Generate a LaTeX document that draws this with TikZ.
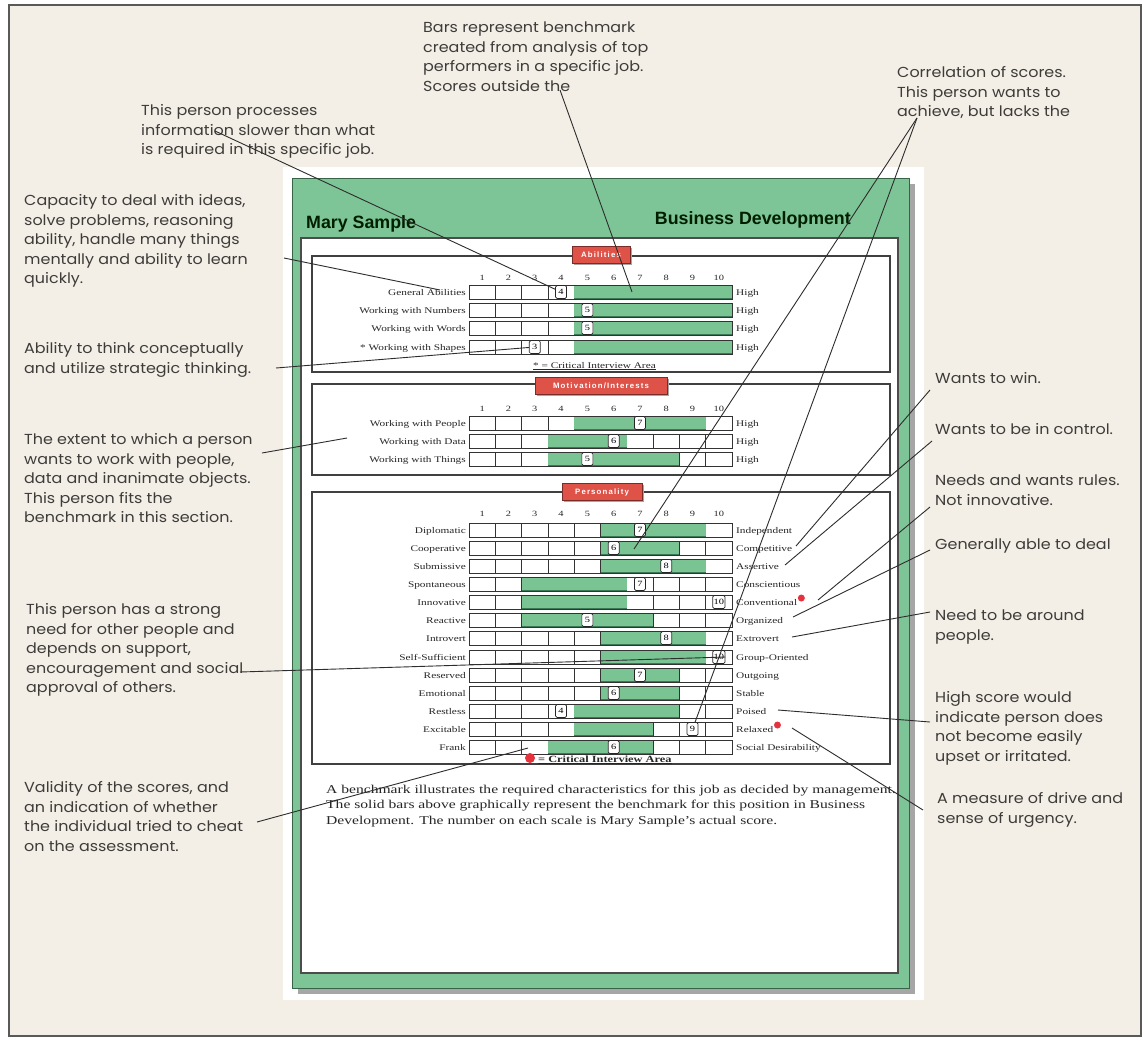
\documentclass[tikz,border=0pt]{standalone}
\usepackage{fontspec}
\setmainfont{Liberation Serif}
\newfontfamily\annfont[FakeStretch=1.1]{Poppins}
\newfontfamily\chartfont[FakeStretch=1.3]{Liberation Serif}
\newfontfamily\ttlfont{Liberation Sans}
\newfontfamily\tagfont[LetterSpace=15]{Liberation Sans}
\definecolor{beige}{RGB}{243,239,231}
\definecolor{frameg}{RGB}{125,196,150}
\definecolor{frameline}{RGB}{55,100,70}
\definecolor{barg}{RGB}{122,196,148}
\definecolor{bardark}{RGB}{60,120,85}
\definecolor{tagred}{RGB}{222,82,72}
\definecolor{dotred}{RGB}{230,50,60}
\definecolor{anncol}{RGB}{62,60,57}
\definecolor{linecol}{RGB}{45,45,45}
\newcommand\bmrow[7]{%
  \foreach \k in {0,...,9}{\draw[bmcell] ({469+\k*26.3},#2-7) rectangle ({469+(\k+1)*26.3},#2+7);}
  \fill[barg] ({469+#3*26.3},#2-6.3) rectangle ({469+#4*26.3},#2+6.3);
  \draw[bardark,line width=0.8] ({469+#3*26.3},#2+6) -- ({469+#4*26.3},#2+6);
  \draw[draw=black!80,line width=0.8] (469,#2-7) rectangle (732,#2+7);
  \node[scorebox] (sc-#1) at ({469+(#5-0.5)*26.3},#2) {#5};
  \node[rowlab,anchor=base east] (L-#1) at (466,#2+3) {#6};
  \node[rowlab,anchor=base west] (R-#1) at (736,#2+3) {#7};
}
\begin{document}
\begin{tikzpicture}[x=1pt,y=-1pt,
  annot/.style={anchor=north west,inner sep=0,align=left,text=anncol,font=\annfont\fontsize{14.5}{19.5}\selectfont},
  rowlab/.style={inner sep=0,text=black!85,font=\chartfont\fontsize{8.7}{10}\selectfont},
  scalenum/.style={inner sep=0,anchor=base,text=black!85,font=\chartfont\fontsize{8}{9}\selectfont},
  scorebox/.style={draw=black!85,fill=white,rounded corners=1.5,line width=0.7,inner sep=1,minimum width=11,minimum height=13,font=\chartfont\fontsize{8}{9}\selectfont},
  bmcell/.style={draw=black!80,fill=white,line width=0.8},
  secbox/.style={draw=black!75,line width=1.3},
  sectag/.style={fill=tagred,draw=tagred!55!black,line width=0.6,text=white,minimum height=17,inner xsep=3,inner ysep=2,font=\tagfont\bfseries\fontsize{7.8}{8}\selectfont,preaction={fill=black!35,transform canvas={xshift=1.5pt,yshift=-1.5pt}}},
  ttl/.style={inner sep=0,text=black!80!green!60!black,font=\ttlfont\bfseries\fontsize{17.8}{20}\selectfont},
  paratext/.style={anchor=north west,inner sep=0,align=left,text=black!85,font=\chartfont\fontsize{12}{15.5}\selectfont},
  leader/.style={draw=linecol,line width=0.9}]
\useasboundingbox (0,0) rectangle (1147,1044);
\fill[white] (0,0) rectangle (1147,1044);
\fill[beige] (9,5) rectangle (1141,1036);
\draw[black!65,line width=1.5] (9,5) rectangle (1141,1036);
% paper and frame
\fill[white] (283,167) rectangle (924,1000);
\fill[black!35] (298,184) rectangle (915,994);
\fill[frameg] (292,178) rectangle (909,988);
\draw[frameline,line width=1] (292,178) rectangle (909,988);
\fill[white] (301,238) rectangle (898,973);
\draw[black!70,line width=1.2] (301,238) rectangle (898,973);
\node[ttl,anchor=base west] (name) at (306,228) {Mary Sample};
\node[ttl,anchor=base east] (job) at (851,224) {Business Development};
% section boxes
\draw[secbox] (312,256) rectangle (890,372);
\draw[secbox] (312,384) rectangle (890,475);
\draw[secbox] (312,492) rectangle (890,764);
\node[sectag,minimum width=58] (tag1) at (601,255) {Abilities};
\node[sectag,minimum width=132] (tag2) at (601,386) {Motivation/Interests};
\node[sectag,minimum width=80] (tag3) at (602,492) {Personality};
% scale numbers
\foreach \k in {1,...,10}{
  \node[scalenum] at ({469+(\k-0.5)*26.3},280) {\k};
  \node[scalenum] at ({469+(\k-0.5)*26.3},411) {\k};
  \node[scalenum] at ({469+(\k-0.5)*26.3},516) {\k};
}
% abilities
\bmrow{a1}{292}{4}{10}{4}{General Abilities}{High}
\bmrow{a2}{310}{4}{10}{5}{Working with Numbers}{High}
\bmrow{a3}{328}{4}{10}{5}{Working with Words}{High}
\bmrow{a4}{347}{4}{10}{3}{* Working with Shapes}{High}
\node[rowlab,anchor=base west] (crit1) at (533,368) {\underline{* = Critical Interview Area}};
% motivation
\bmrow{m1}{423}{4}{9}{7}{Working with People}{High}
\bmrow{m2}{441}{3}{6}{6}{Working with Data}{High}
\bmrow{m3}{459}{3}{8}{5}{Working with Things}{High}
% personality
\bmrow{p1}{530}{5}{9}{7}{Diplomatic}{Independent}
\bmrow{p2}{548}{5}{8}{6}{Cooperative}{Competitive}
\bmrow{p3}{566}{5}{9}{8}{Submissive}{Assertive}
\bmrow{p4}{584}{2}{6}{7}{Spontaneous}{Conscientious}
\bmrow{p5}{602}{2}{6}{10}{Innovative}{Conventional}
\bmrow{p6}{620}{2}{7}{5}{Reactive}{Organized}
\bmrow{p7}{638}{5}{9}{8}{Introvert}{Extrovert}
\bmrow{p8}{657}{5}{9}{10}{Self-Sufficient}{Group-Oriented}
\bmrow{p9}{675}{5}{8}{7}{Reserved}{Outgoing}
\bmrow{p10}{693}{5}{8}{6}{Emotional}{Stable}
\bmrow{p11}{711}{4}{8}{4}{Restless}{Poised}
\bmrow{p12}{729}{4}{7}{9}{Excitable}{Relaxed}
\bmrow{p13}{747}{3}{7}{6}{Frank}{Social Desirability}
\fill[dotred] ([xshift=4pt,yshift=4pt]R-p5.east) circle (3.5);
\fill[dotred] ([xshift=4pt,yshift=4pt]R-p12.east) circle (3.5);
\fill[dotred] (530,758) circle (5);
\node[rowlab,anchor=base west,font=\chartfont\bfseries\fontsize{9.5}{11}\selectfont] (crit2) at (538,762) {\underline{= Critical Interview Area}};
% paragraph
\node[paratext] (bench) at (326,782) {\strut A benchmark illustrates the required characteristics for this job as decided by management.\\The solid bars above graphically represent the benchmark for this position in Business\\Development. The number on each scale is Mary Sample’s actual score.};
% annotations
\node[annot] (t-proc) at (141,102) {\strut This person processes\\information slower than what\\is required in this specific job.};
\node[annot] (t-bars) at (423,19) {\strut Bars represent benchmark\\created from analysis of top\\performers in a specific job.\\Scores outside the};
\node[annot] (t-corr) at (897,64) {\strut Correlation of scores.\\This person wants to\\achieve, but lacks the};
\node[annot] (t-cap) at (24,192) {\strut Capacity to deal with ideas,\\solve problems, reasoning\\ability, handle many things\\mentally and ability to learn\\quickly.};
\node[annot] (t-abil) at (24,340) {\strut Ability to think conceptually\\and utilize strategic thinking.};
\node[annot] (t-ext) at (24,431) {\strut The extent to which a person\\wants to work with people,\\data and inanimate objects.\\This person fits the\\benchmark in this section.};
\node[annot] (t-strong) at (26,601) {\strut This person has a strong\\need for other people and\\depends on support,\\encouragement and social\\approval of others.};
\node[annot] (t-valid) at (24,779) {\strut Validity of the scores, and\\an indication of whether\\the individual tried to cheat\\on the assessment.};
\node[annot] (t-win) at (935,370) {\strut Wants to win.};
\node[annot] (t-ctrl) at (935,421) {\strut Wants to be in control.};
\node[annot] (t-rules) at (935,472) {\strut Needs and wants rules.\\Not innovative.};
\node[annot] (t-deal) at (935,536) {\strut Generally able to deal};
\node[annot] (t-around) at (935,607) {\strut Need to be around\\people.};
\node[annot] (t-high) at (935,689) {\strut High score would\\indicate person does\\not become easily\\upset or irritated.};
\node[annot] (t-drive) at (937,790) {\strut A measure of drive and\\sense of urgency.};
% connector coordinates
\coordinate (c-proc) at (215,131);
\coordinate (c-cap) at (284,258);
\coordinate (e-cap) at (440,290);
\coordinate (c-bars) at (560,90);
\coordinate (e-bars) at (632,292);
\coordinate (c-abil) at (276,368);
\coordinate (c-ext) at (262,453);
\coordinate (e-ext) at (347,438);
\coordinate (c-strong) at (240,672);
\coordinate (c-valid) at (257,822);
\coordinate (e-valid) at (528,748);
\coordinate (c-corr) at (917,118);
\coordinate (e-corr) at (634,549);
\coordinate (c-win) at (930,390);
\coordinate (e-win) at (796,546);
\coordinate (c-ctrl) at (932,441);
\coordinate (e-ctrl) at (785,565);
\coordinate (c-rules) at (930,507);
\coordinate (e-rules) at (818,600);
\coordinate (c-deal) at (930,550);
\coordinate (e-deal) at (793,617);
\coordinate (c-around) at (930,612);
\coordinate (e-around) at (792,637);
\coordinate (c-high) at (930,722);
\coordinate (e-high) at (778,710);
\coordinate (c-drive) at (923,810);
\coordinate (e-drive) at (792,728);
% connectors
\draw[leader] (c-proc) -- (sc-a1);
\draw[leader] (c-cap) -- (e-cap);
\draw[leader] (c-bars) -- (e-bars);
\draw[leader] (c-abil) -- (sc-a4);
\draw[leader] (c-ext) -- (e-ext);
\draw[leader] (c-strong) -- (sc-p8.east);
\draw[leader] (c-valid) -- (e-valid);
\draw[leader] (c-corr) -- (e-corr);
\draw[leader] (c-corr) -- (sc-p12);
\draw[leader] (c-win) -- (e-win);
\draw[leader] (c-ctrl) -- (e-ctrl);
\draw[leader] (c-rules) -- (e-rules);
\draw[leader] (c-deal) -- (e-deal);
\draw[leader] (c-around) -- (e-around);
\draw[leader] (c-high) -- (e-high);
\draw[leader] (c-drive) -- (e-drive);
\end{tikzpicture}
\end{document}
